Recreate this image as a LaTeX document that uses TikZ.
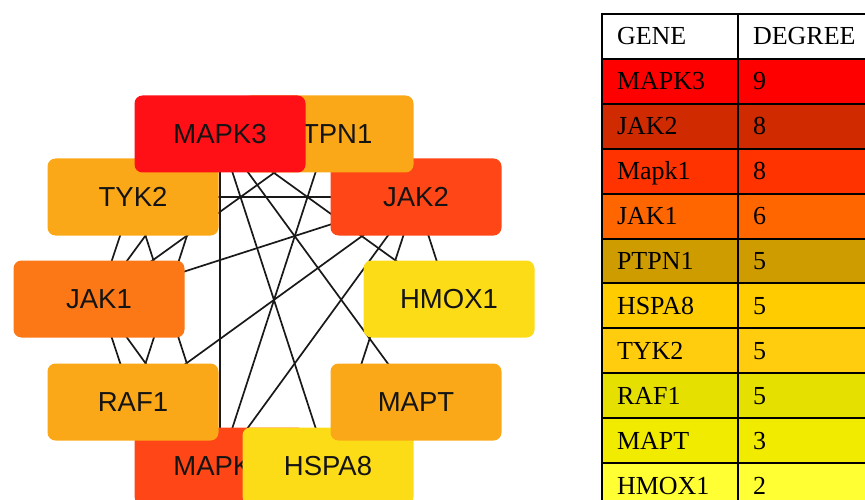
\documentclass[tikz,border=0pt]{standalone}
\usepackage{fontspec}
\setmainfont{Liberation Serif}
\newfontfamily\genefont{Liberation Sans}
\usetikzlibrary{positioning}

\definecolor{nodered}{HTML}{FF1017}
\definecolor{noderedorange}{HTML}{FF4616}
\definecolor{nodeorange}{HTML}{FC7816}
\definecolor{nodeamber}{HTML}{FBA818}
\definecolor{nodeyellow}{HTML}{FCDC17}

\definecolor{rowmapkthree}{HTML}{FF0000}
\definecolor{rowjaktwo}{HTML}{CF2A00}
\definecolor{rowmapkone}{HTML}{FF3300}
\definecolor{rowjakone}{HTML}{FF6600}
\definecolor{rowptpn}{HTML}{CF9C00}
\definecolor{rowhspa}{HTML}{FFCC00}
\definecolor{rowtyk}{HTML}{FFCD0E}
\definecolor{rowraf}{HTML}{E6E000}
\definecolor{rowmapt}{HTML}{F1EB00}
\definecolor{rowhmox}{HTML}{FFFF33}

\pgfdeclarelayer{edges}
\pgfsetlayers{edges,main}

\begin{document}
\begin{tikzpicture}[
  x=1pt, y=-1pt,
  gene/.style={rectangle, rounded corners=8pt, minimum width=171pt, minimum height=77pt, inner sep=0pt, text=black!92, font=\genefont\fontsize{27.5}{30}\selectfont},
  link/.style={draw=black!90, line width=1.7pt},
  cell/.style={rectangle, draw=black, line width=2pt, outer sep=0pt, minimum height=44.9pt, inner xsep=15pt, inner ysep=0pt, text height=20pt, text depth=3pt, align=left, font=\fontsize{26}{28}\selectfont},
  genecol/.style={cell, text width=106pt},
  degcol/.style={cell, text width=110pt},
  node distance=0pt,
]
\useasboundingbox (0,0) rectangle (865,500);
\clip (0,0) rectangle (865,500);

%%% Network nodes
\node[gene, fill=nodeamber] (tyk2) at (133,197) {TYK2};
\node[gene, fill=noderedorange] (jak2) at (416,197) {JAK2};
\node[gene, fill=nodeamber] (ptpn1) at (328,134) {PTPN1};
\node[gene, fill=nodered] (mapk3) at (220,134) {MAPK3};
\node[gene, fill=nodeorange] (jak1) at (99,299) {JAK1};
\node[gene, fill=nodeyellow] (hmox1) at (449,299) {HMOX1};
\node[gene, fill=noderedorange] (mapk1) at (220,466) {MAPK1};
\node[gene, fill=nodeyellow] (hspa8) at (328,466) {HSPA8};
\node[gene, fill=nodeamber] (raf1) at (133,402) {RAF1};
\node[gene, fill=nodeamber] (mapt) at (416,402) {MAPT};

%%% Interactions (under the nodes)
\begin{pgfonlayer}{edges}
  \draw[link] (mapk3.center) -- (ptpn1.center) (mapk3.center) -- (tyk2.center)
    (mapk3.center) -- (jak2.center) (mapk3.center) -- (jak1.center)
    (mapk3.center) -- (hmox1.center) (mapk3.center) -- (raf1.center)
    (mapk3.center) -- (mapt.center) (mapk3.center) -- (mapk1.center)
    (mapk3.center) -- (hspa8.center);
  \draw[link] (jak2.center) -- (tyk2.center) (jak2.center) -- (jak1.center)
    (jak2.center) -- (raf1.center) (jak2.center) -- (mapk1.center)
    (jak2.center) -- (hspa8.center) (jak2.center) -- (hmox1.center)
    (jak2.center) -- (ptpn1.center);
  \draw[link] (mapk1.center) -- (tyk2.center) (mapk1.center) -- (jak1.center)
    (mapk1.center) -- (ptpn1.center) (mapk1.center) -- (raf1.center)
    (mapk1.center) -- (mapt.center) (mapk1.center) -- (hspa8.center);
  \draw[link] (jak1.center) -- (ptpn1.center) (jak1.center) -- (tyk2.center)
    (jak1.center) -- (raf1.center);
  \draw[link] (mapt.center) -- (hspa8.center) (tyk2.center) -- (ptpn1.center)
    (raf1.center) -- (hspa8.center);
\end{pgfonlayer}

%%% Degree table
\node[genecol] (genehead) at (670,36.5) {GENE};
\node[degcol] (deghead) [right=of genehead] {DEGREE};
\node[genecol, fill=rowmapkthree] (gene1) [below=of genehead] {MAPK3};
\node[degcol, fill=rowmapkthree] (deg1) [right=of gene1] {9};
\node[genecol, fill=rowjaktwo] (gene2) [below=of gene1] {JAK2};
\node[degcol, fill=rowjaktwo] (deg2) [right=of gene2] {8};
\node[genecol, fill=rowmapkone] (gene3) [below=of gene2] {Mapk1};
\node[degcol, fill=rowmapkone] (deg3) [right=of gene3] {8};
\node[genecol, fill=rowjakone] (gene4) [below=of gene3] {JAK1};
\node[degcol, fill=rowjakone] (deg4) [right=of gene4] {6};
\node[genecol, fill=rowptpn] (gene5) [below=of gene4] {PTPN1};
\node[degcol, fill=rowptpn] (deg5) [right=of gene5] {5};
\node[genecol, fill=rowhspa] (gene6) [below=of gene5] {HSPA8};
\node[degcol, fill=rowhspa] (deg6) [right=of gene6] {5};
\node[genecol, fill=rowtyk] (gene7) [below=of gene6] {TYK2};
\node[degcol, fill=rowtyk] (deg7) [right=of gene7] {5};
\node[genecol, fill=rowraf] (gene8) [below=of gene7] {RAF1};
\node[degcol, fill=rowraf] (deg8) [right=of gene8] {5};
\node[genecol, fill=rowmapt] (gene9) [below=of gene8] {MAPT};
\node[degcol, fill=rowmapt] (deg9) [right=of gene9] {3};
\node[genecol, fill=rowhmox] (gene10) [below=of gene9] {HMOX1};
\node[degcol, fill=rowhmox] (deg10) [right=of gene10] {2};

\end{tikzpicture}
\end{document}
